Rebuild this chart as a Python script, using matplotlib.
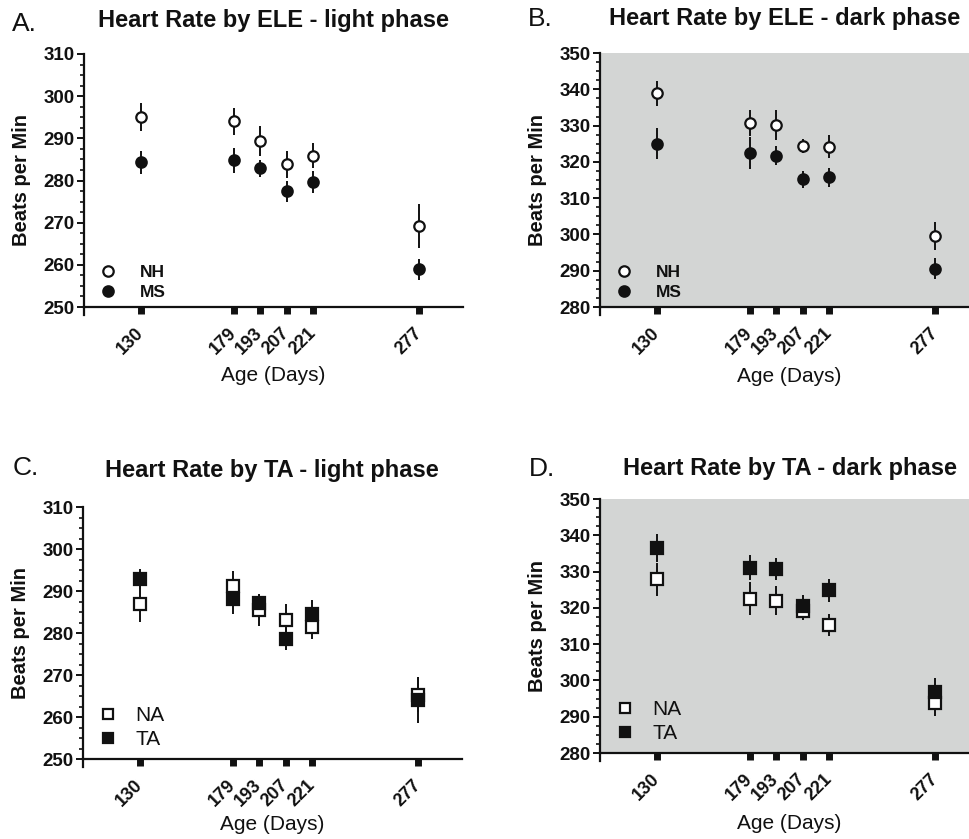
import numpy as np
import matplotlib.pyplot as plt
from matplotlib.ticker import MultipleLocator
from matplotlib.transforms import ScaledTranslation

plt.rcParams['font.family'] = ['Liberation Sans', 'DejaVu Sans']

days = [130, 179, 193, 207, 221, 277]
day_labels = ['130', '179', '193', '207', '221', '277']

# A. ELE - light phase
ele_light_nh = [295.0, 294.0, 289.3, 283.9, 285.9, 269.3]
ele_light_nh_err = [3.3, 3.3, 3.6, 3.2, 3.0, 5.2]
ele_light_ms = [284.3, 284.8, 282.9, 277.4, 279.7, 259.0]
ele_light_ms_err = [2.7, 3.0, 2.0, 2.5, 2.6, 2.5]

# B. ELE - dark phase
ele_dark_nh = [338.9, 330.7, 330.2, 324.4, 324.2, 299.6]
ele_dark_nh_err = [3.5, 3.5, 4.2, 2.0, 3.2, 3.8]
ele_dark_ms = [325.0, 322.4, 321.7, 315.2, 315.7, 290.6]
ele_dark_ms_err = [4.3, 4.5, 2.7, 2.4, 2.7, 2.9]

# C. TA - light phase
ta_light_na = [287.0, 291.3, 285.4, 283.2, 281.5, 265.3]
ta_light_na_err = [4.3, 3.5, 3.7, 3.8, 3.0, 4.2]
ta_light_ta = [292.9, 288.0, 287.2, 278.5, 284.6, 264.1]
ta_light_ta_err = [2.4, 3.4, 2.2, 2.6, 3.2, 5.5]

# D. TA - dark phase
ta_dark_na = [327.9, 322.5, 322.0, 319.2, 315.3, 293.8]
ta_dark_na_err = [4.6, 4.5, 4.0, 2.6, 3.1, 3.7]
ta_dark_ta = [336.5, 331.1, 330.7, 320.6, 324.8, 296.9]
ta_dark_ta_err = [3.8, 3.5, 3.0, 3.0, 3.1, 3.8]

GRAY = '#d3d5d4'
INK = '#111111'


def panel(ax, ylim, s1, e1, s2, e2, names, marker, dark, leg_bold, xlab_drop):
    if dark:
        ax.set_facecolor(GRAY)
    # error bars first, markers on top
    ax.errorbar(days, s1, yerr=e1, fmt='none', ecolor=INK, elinewidth=1.4, capsize=0, zorder=2)
    ax.errorbar(days, s2, yerr=e2, fmt='none', ecolor=INK, elinewidth=1.4, capsize=0, zorder=2)
    ms = 7.5 if marker == 'o' else 8
    ax.plot(days, s1, marker, ms=ms, mfc='white', mec=INK, mew=1.6, ls='none', label=names[0], zorder=3)
    ax.plot(days, s2, marker, ms=ms, mfc=INK, mec=INK, mew=1.6, ls='none', label=names[1], zorder=4)

    ax.set_xlim(100, 300)
    ax.set_ylim(*ylim)
    ax.yaxis.set_major_locator(MultipleLocator(10))
    ax.yaxis.set_minor_locator(MultipleLocator(2.5))
    ax.set_xticks(days)
    ax.set_xticklabels(day_labels, rotation=45, ha='right', va='center', rotation_mode='anchor')
    shift = ScaledTranslation(0.06, 0, ax.figure.dpi_scale_trans)
    for lab in ax.get_xticklabels():
        lab.set_transform(lab.get_transform() + shift)
        lab.set_fontsize(13)
    for lab in ax.get_yticklabels():
        lab.set_fontsize(13.5)
    for lab in ax.get_xticklabels() + ax.get_yticklabels():
        lab.set_fontweight('bold')
        lab.set_color(INK)
    ax.tick_params(axis='x', length=5, width=5, pad=12, color=INK)
    ax.tick_params(axis='y', which='major', length=5, width=1.4, pad=2, color=INK)
    ax.tick_params(axis='y', which='minor', length=3, width=1.2, color=INK)
    for side in ['top', 'right']:
        ax.spines[side].set_visible(False)
    for side in ['left', 'bottom']:
        ax.spines[side].set_linewidth(1.6)
        ax.spines[side].set_color(INK)
    # little overhang of the y axis below the x axis, as in Prism
    ax.plot([0, 0], [0, -0.03], transform=ax.transAxes, color=INK, lw=1.6, clip_on=False)

    ax.set_ylabel('Beats per Min', fontsize=14.5, fontweight='bold', color=INK)
    ax.yaxis.set_label_coords(-0.14, 0.5)
    ax.set_xlabel('Age (Days)', fontsize=15, color=INK)
    ax.xaxis.set_label_coords(0.5, -xlab_drop)

    if leg_bold:
        leg = ax.legend(loc='lower left', bbox_to_anchor=(0.0, -0.035), frameon=False,
                        handlelength=1.0, handletextpad=1.3, labelspacing=0.3,
                        markerscale=1.0, prop={'weight': 'bold', 'size': 12.5})
    else:
        leg = ax.legend(loc='lower left', bbox_to_anchor=(-0.012, -0.035), frameon=False,
                        handlelength=1.0, handletextpad=0.85, labelspacing=0.25,
                        markerscale=0.95, prop={'size': 15})
    for t in leg.get_texts():
        t.set_color(INK)


fig = plt.figure(figsize=(9.69, 8.39), dpi=100)
W, H = 969.0, 839.0


def box(left, top, bottom, width=379):
    return [left / W, 1 - bottom / H, width / W, (bottom - top) / H]


axA = fig.add_axes(box(84, 54, 307))
axB = fig.add_axes(box(600, 53, 307))
axC = fig.add_axes(box(83, 507, 759))
axD = fig.add_axes(box(600, 499, 753))

panel(axA, (250, 310), ele_light_nh, ele_light_nh_err, ele_light_ms, ele_light_ms_err,
      ['NH', 'MS'], 'o', False, True, 0.235)
panel(axB, (280, 350), ele_dark_nh, ele_dark_nh_err, ele_dark_ms, ele_dark_ms_err,
      ['NH', 'MS'], 'o', True, True, 0.235)
panel(axC, (250, 310), ta_light_na, ta_light_na_err, ta_light_ta, ta_light_ta_err,
      ['NA', 'TA'], 's', False, False, 0.222)
panel(axD, (280, 350), ta_dark_na, ta_dark_na_err, ta_dark_ta, ta_dark_ta_err,
      ['NA', 'TA'], 's', True, False, 0.24)

titles = [
    ('A.', 12, 24, 'Heart Rate by ELE - light phase', 273, 21),
    ('B.', 528, 19, 'Heart Rate by ELE - dark phase', 785, 18),
    ('C.', 13, 468, 'Heart Rate by TA - light phase', 272, 470),
    ('D.', 529, 469, 'Heart Rate by TA - dark phase', 790, 468),
]
for letter, lx, ly, title, tx, ty in titles:
    fig.text(lx / W, 1 - ly / H, letter, fontsize=19, color=INK, ha='left', va='center')
    fig.text(tx / W, 1 - ty / H, title, fontsize=17, fontweight='bold', color=INK,
             ha='center', va='center')

fig.savefig('out.png', dpi=100)
